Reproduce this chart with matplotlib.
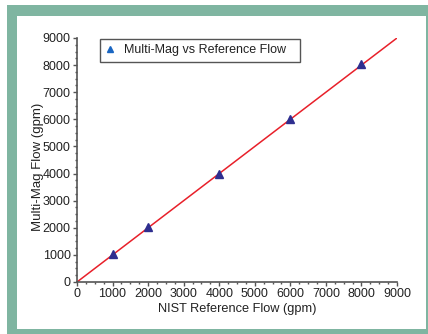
import matplotlib
matplotlib.use("Agg")
import matplotlib.pyplot as plt
from matplotlib.patches import Rectangle
from matplotlib.ticker import MultipleLocator
from matplotlib.lines import Line2D

plt.rcParams['font.family'] = ['Liberation Sans', 'DejaVu Sans']

# --- Data ---
reference_flow = [1000, 2000, 4000, 6000, 8000]
multimag_flow = [1040, 2040, 4000, 6030, 8030]
fit_x = [0, 9000]
fit_y = [0, 9000]

W, H = 428, 334
fig = plt.figure(figsize=(W / 100, H / 100), dpi=100)
fig.patch.set_facecolor('white')

# green frame with white panel (behind the axes)
frame_green = '#7fb5a1'
fig.patches.append(Rectangle((7 / W, 0), 1 - 7 / W, 1 - 5 / H, transform=fig.transFigure,
                             facecolor=frame_green, edgecolor='none', zorder=-2))
fig.patches.append(Rectangle((17 / W, 5 / H), (426 - 17) / W, (329 - 16) / H, transform=fig.transFigure,
                             facecolor='white', edgecolor='none', zorder=-1))

ax = fig.add_axes([77 / W, 1 - 282 / H, (397 - 77) / W, (282 - 38) / H])
ax.set_facecolor('none')

ax.plot(fit_x, fit_y, color='#e8202a', linewidth=1.1, zorder=2)
ax.plot(reference_flow, multimag_flow, linestyle='none', marker='^', markersize=6,
        color='#2e2e8f', zorder=3, clip_on=False)

ax.set_xlim(0, 9000)
ax.set_ylim(0, 9000)
ax.xaxis.set_major_locator(MultipleLocator(1000))
ax.yaxis.set_major_locator(MultipleLocator(1000))
ax.xaxis.set_minor_locator(MultipleLocator(250))
ax.yaxis.set_minor_locator(MultipleLocator(250))

for s in ['top', 'right']:
    ax.spines[s].set_visible(False)
for s in ['left', 'bottom']:
    ax.spines[s].set_color('#555555')
    ax.spines[s].set_linewidth(1.2)
ax.tick_params(which='major', direction='out', length=3, width=1, color='#555555',
               labelsize=9, labelcolor='#222222', pad=1.5)
ax.tick_params(which='minor', direction='out', length=1.5, width=1, color='#555555')

ax.set_xlabel('NIST Reference Flow (gpm)', fontsize=9.2, color='#222222')
ax.set_ylabel('Multi-Mag Flow (gpm)', fontsize=9.5, color='#222222')
ax.xaxis.set_label_coords(0.5, -0.088)
ax.yaxis.set_label_coords(-0.103, 0.47)

# legend: box drawn by hand so it matches the wider frame
ax.add_patch(Rectangle(((100 - 77) / 320, (282 - 62) / 244), 200 / 320, 23 / 244,
                       transform=ax.transAxes, facecolor='white', edgecolor='#555555',
                       linewidth=1.0, clip_on=False, zorder=4))
handle = Line2D([], [], linestyle='none', marker='^', markersize=5, color='#1a66c2')
leg = ax.legend([handle], ['Multi-Mag vs Reference Flow'], loc='center left',
                bbox_to_anchor=((104 - 77) / 320, (282 - 50.5) / 244),
                fontsize=9, frameon=False, handlelength=1.0,
                handletextpad=0.6, borderpad=0, borderaxespad=0)
leg.set_zorder(5)
for t in leg.get_texts():
    t.set_color('#222222')

fig.savefig('out.png', dpi=100)
